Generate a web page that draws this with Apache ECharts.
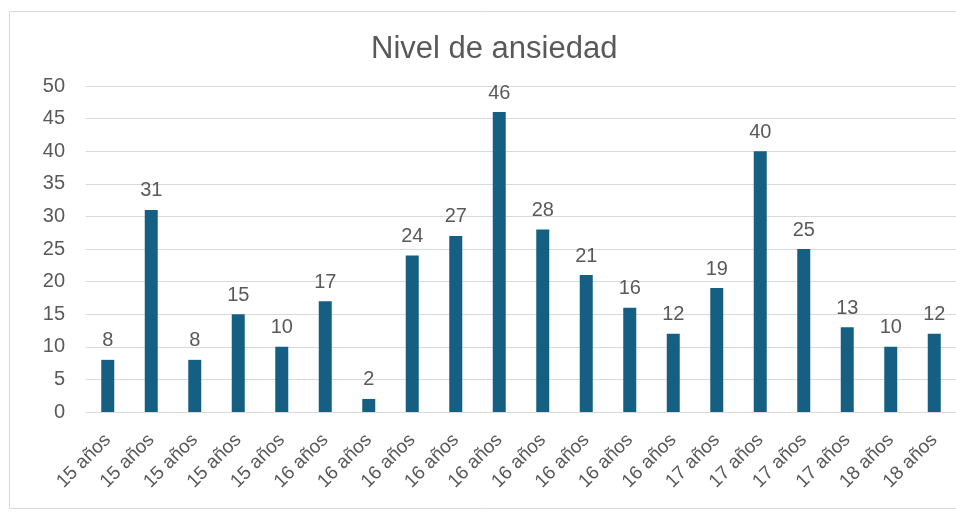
<!DOCTYPE html>
<html>
<head>
<meta charset="utf-8">
<title>Nivel de ansiedad</title>
<script src="https://cdn.jsdelivr.net/npm/echarts@6/dist/echarts.min.js"></script>
<style>
    html, body { margin: 0; padding: 0; background: #fff; }
    #chart { width: 956px; height: 514px; }
</style>
</head>
<body>
<div id="chart"></div>
<script>
// 数据
var categories = [
    '15 años', '15 años', '15 años', '15 años', '15 años',
    '16 años', '16 años', '16 años', '16 años', '16 años', '16 años', '16 años', '16 años', '16 años',
    '17 años', '17 años', '17 años', '17 años',
    '18 años', '18 años'
];
var values = [8, 31, 8, 15, 10, 17, 2, 24, 27, 46, 28, 21, 16, 12, 19, 40, 25, 13, 10, 12];
var yTicks = { min: 0, max: 50, interval: 5 };

var textColor = '#595959',
    gridColor = '#d9d9d9',
    fontName = '"Liberation Sans", "DejaVu Sans", sans-serif';

var chart = echarts.init(document.getElementById('chart'));
chart.setOption({
    animation: false,
    title: {
        text: 'Nivel de ansiedad',
        left: 366,
        top: 29,
        textStyle: {
            color: textColor,
            fontSize: 31,
            fontWeight: 'normal',
            fontFamily: fontName
        }
    },
    graphic: [{
        type: 'rect',
        shape: { x: 9.5, y: 11.5, width: 960, height: 497 },
        style: { fill: 'none', stroke: gridColor, lineWidth: 1 },
        silent: true
    }],
    grid: {
        left: 86,
        right: 0,
        top: 86,
        bottom: 102
    },
    xAxis: {
        type: 'category',
        data: categories,
        axisLine: { lineStyle: { color: gridColor, width: 1 } },
        axisTick: { show: false },
        axisLabel: {
            interval: 0,
            rotate: 45,
            margin: 25,
            color: textColor,
            fontSize: 19,
            fontFamily: fontName
        }
    },
    yAxis: {
        type: 'value',
        min: yTicks.min,
        max: yTicks.max,
        interval: yTicks.interval,
        axisLine: { show: false },
        axisTick: { show: false },
        splitLine: { lineStyle: { color: gridColor, width: 1 } },
        axisLabel: {
            margin: 21,
            color: textColor,
            fontSize: 20,
            fontFamily: fontName
        }
    },
    series: [{
        name: 'Nivel de ansiedad',
        type: 'bar',
        data: values,
        barWidth: 13,
        itemStyle: { color: '#156082' },
        label: {
            show: true,
            position: 'top',
            distance: 9,
            color: textColor,
            fontSize: 20,
            fontFamily: fontName
        }
    }]
});
</script>
</body>
</html>
